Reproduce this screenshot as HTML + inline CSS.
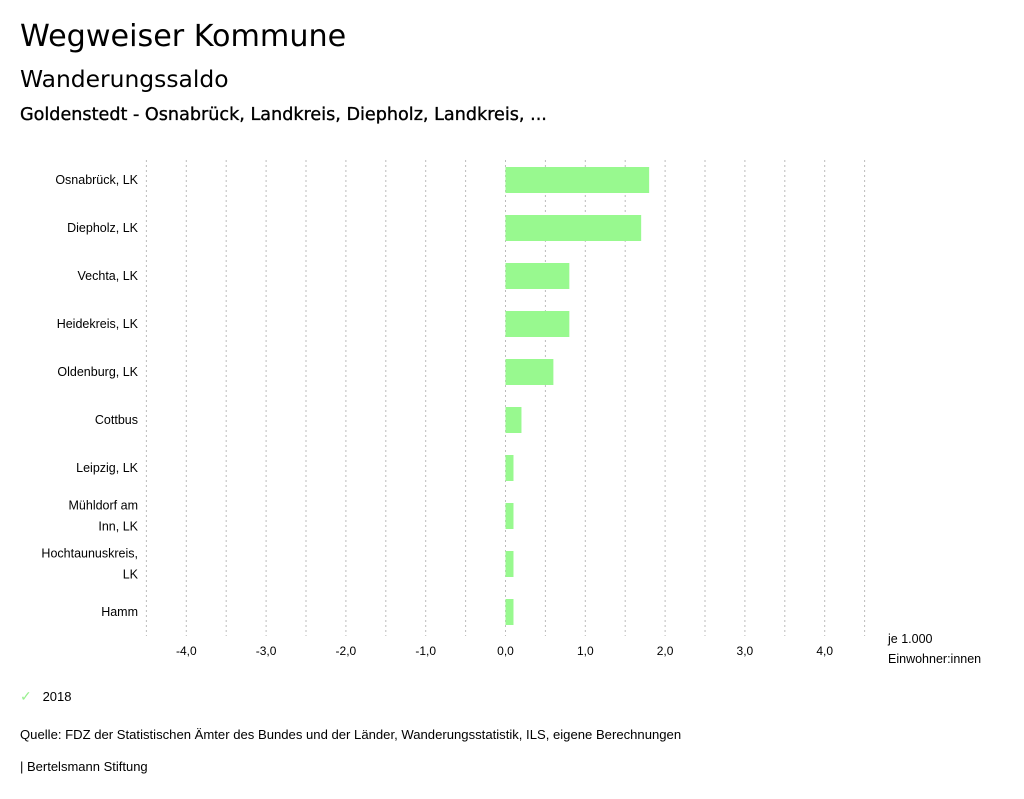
<!DOCTYPE html>
<html><head><meta charset="utf-8"><style>
body{margin:0;background:#fff;font-family:"Liberation Sans",sans-serif;color:#000}
.abs{position:absolute;white-space:nowrap}
</style></head><body>
<div style="position:relative;width:1024px;height:799px;overflow:hidden">
<div class="abs" style="left:20px;top:19px;font-size:30.2px;font-family:'DejaVu Sans',sans-serif">Wegweiser Kommune</div>
<div class="abs" style="left:20px;top:65px;font-size:23.4px;font-family:'DejaVu Sans',sans-serif">Wanderungssaldo</div>
<div class="abs" style="left:20px;top:105px;font-size:17.6px;font-family:'DejaVu Sans',sans-serif;-webkit-text-stroke:0.35px #000">Goldenstedt - Osnabrück, Landkreis, Diepholz, Landkreis, ...</div>
<svg id="chart" width="1024" height="799" style="position:absolute;left:0;top:0" font-family="Liberation Sans, sans-serif"></svg>
<div class="abs" style="left:20px;top:688px;font-size:13px"><span style="color:#98f08f;font-size:14px">✓</span>&nbsp;&nbsp;&nbsp;2018</div>
<div class="abs" style="left:20px;top:727px;font-size:13.1px">Quelle: FDZ der Statistischen Ämter des Bundes und der Länder, Wanderungsstatistik, ILS, eigene Berechnungen</div>
<div class="abs" style="left:20px;top:759px;font-size:13px">| Bertelsmann Stiftung</div>
</div>
<script>
const categories=[["Osnabrück, LK"],["Diepholz, LK"],["Vechta, LK"],["Heidekreis, LK"],["Oldenburg, LK"],["Cottbus"],["Leipzig, LK"],["Mühldorf am","Inn, LK"],["Hochtaunuskreis,","LK"],["Hamm"]];
const values=[1.8,1.7,0.8,0.8,0.6,0.2,0.1,0.1,0.1,0.1];
const tickValues=[-4,-3,-2,-1,0,1,2,3,4];
const tickLabels=["-4,0","-3,0","-2,0","-1,0","0,0","1,0","2,0","3,0","4,0"];
const gridValues=[-4.5,-4,-3.5,-3,-2.5,-2,-1.5,-1,-0.5,0,0.5,1,1.5,2,2.5,3,3.5,4,4.5];
const svg=document.getElementById('chart');
const NS='http://www.w3.org/2000/svg';
const x=v=>505.5+v*79.8;
const top0=156,step=48,bh=26,bottom=636;
const y=i=>top0+i*step+step/2;
function mk(t,a){const e=document.createElementNS(NS,t);for(const k in a)e.setAttribute(k,a[k]);svg.appendChild(e);return e;}
gridValues.forEach(v=>{
 const l=mk('line',{x1:x(v),x2:x(v),y1:160,y2:bottom,stroke:'#bbb','stroke-dasharray':'2,3','stroke-width':1});
 
 
});
tickValues.forEach((v,i)=>{
 const t=mk('text',{x:x(v),y:655,'font-size':12,'text-anchor':'middle'});t.textContent=tickLabels[i];
 
 
});
values.forEach((v,i)=>{
 const r=mk('rect',{x:Math.min(x(0),x(v)),y:y(i)-bh/2,width:Math.abs(x(v)-x(0)),height:bh,fill:'#98f98f'});
 
 
 const lines=categories[i];
 lines.forEach((s,j)=>{
  const t=mk('text',{x:138,y:y(i)+4+(j-(lines.length-1)/2)*21,'font-size':12.5,'text-anchor':'end'});t.textContent=s;
  
  
 });
});
const u1=mk('text',{x:888,y:643,'font-size':12.5});u1.textContent='je 1.000';


const u2=mk('text',{x:888,y:663,'font-size':12.5});u2.textContent='Einwohner:innen';


</script>
</body></html>
